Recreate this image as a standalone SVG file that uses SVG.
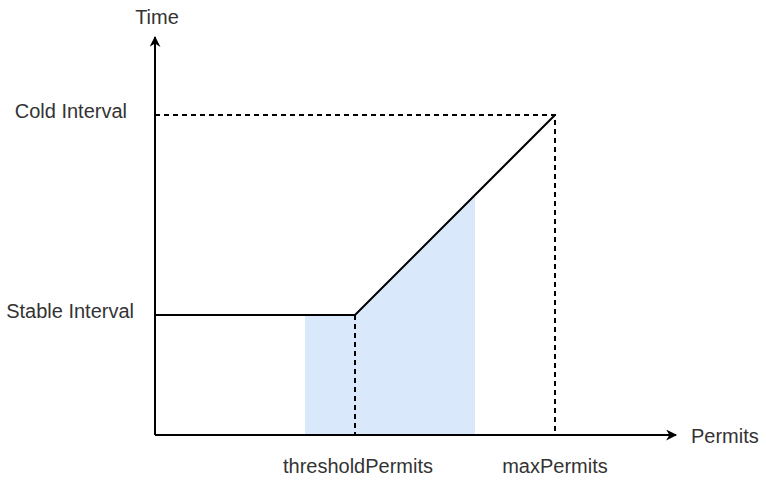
<svg xmlns="http://www.w3.org/2000/svg" width="766" height="481" viewBox="0 0 766 481">
<defs>
<style>
.t{font-family:"Liberation Sans",Arial,sans-serif;font-size:20px;fill:#333333}
.ax{stroke:#000;stroke-width:2;fill:none}
.ds{stroke:#000;stroke-width:2;fill:none;stroke-dasharray:5 4}
.ln{stroke:#000;stroke-width:2;fill:none}
</style>
<marker id="arr" viewBox="0 0 10 10" refX="9" refY="5" markerWidth="12" markerHeight="11" markerUnits="userSpaceOnUse" orient="auto">
<path d="M0,0 L10,5 L0,10 L3,5 Z" fill="#000"/>
</marker>
</defs>
<rect width="766" height="481" fill="#fff"/>
<g id="shade"><polygon points="305,315 355,315 475,195 475,435 305,435" fill="#dae8fc"/></g>
<g id="connectors">
<path class="ds" d="M155,115 H555 V435"/>
<path class="ds" d="M355,315 V435"/>
<path class="ln" d="M155,315 H355 L555,115"/>
<path class="ax" d="M155,435 V37" marker-end="url(#arr)"/>
<path class="ax" d="M155,435 H676" marker-end="url(#arr)"/>
</g>
<g id="labels">
<text class="t" x="157" y="24" text-anchor="middle">Time</text>
<text class="t" x="127" y="118" text-anchor="end">Cold Interval</text>
<text class="t" x="134" y="318" text-anchor="end">Stable Interval</text>
<text class="t" x="691" y="443">Permits</text>
<text class="t" x="358" y="473" text-anchor="middle">thresholdPermits</text>
<text class="t" x="555" y="473" text-anchor="middle">maxPermits</text>
</g>
</svg>
